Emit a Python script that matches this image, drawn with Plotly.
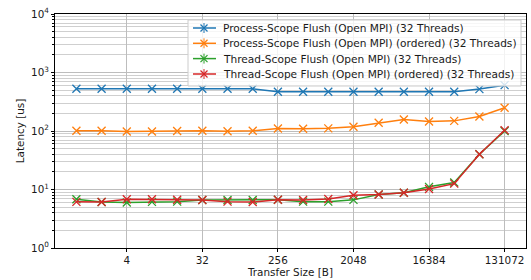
import plotly.graph_objects as go
import math

sizes = [2**i for i in range(18)]
proc_flush = [527, 527, 527, 527, 527, 527, 527, 527, 468, 468, 468, 468, 468, 468, 468, 468, 520, 608]
proc_flush_ordered = [101, 101, 98, 98, 100, 101, 99, 101, 110, 109, 111, 118, 138, 157, 145, 149, 177, 249]
thread_flush = [6.8, 6.1, 6.0, 6.15, 6.2, 6.6, 6.6, 6.6, 6.7, 6.2, 6.2, 6.65, 8.2, 8.8, 11.1, 13.2, 40, 100]
thread_flush_ordered = [6.15, 6.1, 6.8, 6.8, 6.7, 6.6, 6.2, 6.1, 6.7, 6.6, 6.9, 8.0, 8.2, 8.8, 10.2, 12.6, 40, 103]

names = [
    "Process-Scope Flush (Open MPI) (32 Threads)",
    "Process-Scope Flush (Open MPI) (ordered) (32 Threads)",
    "Thread-Scope Flush (Open MPI) (32 Threads)",
    "Thread-Scope Flush (Open MPI) (ordered) (32 Threads)",
]
colors = ["#1f77b4", "#ff7f0e", "#2ca02c", "#d62728"]
series = [proc_flush, proc_flush_ordered, thread_flush, thread_flush_ordered]

x_ticks = [4, 32, 256, 2048, 16384, 131072]
y_ticks = [1, 10, 100, 1000, 10000]
y_ticktext = ["10<sup>0</sup>", "10<sup>1</sup>", "10<sup>2</sup>", "10<sup>3</sup>", "10<sup>4</sup>"]
y_minor = [m * 10**d for d in range(4) for m in range(2, 10)]

W, H = 531, 280
ML, MR, MT, MB = 55, 5, 14, 32
PW, PH = W - ML - MR, H - MT - MB
FS = 10.4
LFS = 10.6


def px(xp):
    return (xp - ML) / PW


def py(yp):
    return (H - MB - yp) / PH


fig = go.Figure()
for name, col, ys in zip(names, colors, series):
    fig.add_trace(go.Scatter(
        x=sizes, y=ys, name=name, mode="lines+markers",
        line=dict(color=col, width=1.5),
        marker=dict(symbol="x-thin", size=8, line=dict(color=col, width=1.3)),
        showlegend=False,
    ))

# manual legend (matplotlib-like, compact rows)
shapes = [dict(type="rect", xref="paper", yref="paper",
               x0=px(188), x1=px(521), y0=py(86), y1=py(20),
               fillcolor="rgba(255,255,255,0.8)", line=dict(color="#cccccc", width=1),
               layer="above")]
annotations = []
row_y = [28, 43.3, 58.6, 74]
for name, col, ry in zip(names, colors, row_y):
    shapes.append(dict(type="line", xref="paper", yref="paper",
                       x0=px(193), x1=px(216), y0=py(ry), y1=py(ry),
                       line=dict(color=col, width=1.5), layer="above"))
    cx, s = 204, 3.5
    shapes.append(dict(type="line", xref="paper", yref="paper",
                       x0=px(cx - s), x1=px(cx + s), y0=py(ry - s), y1=py(ry + s),
                       line=dict(color=col, width=1.3), layer="above"))
    shapes.append(dict(type="line", xref="paper", yref="paper",
                       x0=px(cx - s), x1=px(cx + s), y0=py(ry + s), y1=py(ry - s),
                       line=dict(color=col, width=1.3), layer="above"))
    shapes.append(dict(type="line", xref="paper", yref="paper",
                       x0=px(cx), x1=px(cx), y0=py(ry - 5), y1=py(ry + 5),
                       line=dict(color=col, width=1), layer="above"))
    annotations.append(dict(xref="paper", yref="paper", x=px(221), y=py(ry),
                            xanchor="left", yanchor="middle", showarrow=False,
                            text=name, font=dict(size=LFS, color="#1a1a1a")))

fig.update_layout(
    width=W, height=H,
    margin=dict(l=ML, r=MR, t=MT, b=MB),
    paper_bgcolor="white", plot_bgcolor="white",
    font=dict(family="DejaVu Sans, sans-serif", size=FS, color="#1a1a1a"),
    showlegend=False,
    shapes=shapes, annotations=annotations,
)
fig.update_xaxes(
    type="log", automargin=False,
    range=[math.log10(2**-0.85), math.log10(2**17.85)],
    tickvals=x_ticks, ticktext=[str(v) for v in x_ticks],
    showgrid=True, gridcolor="#bdbdbd", gridwidth=1,
    showline=True, linecolor="black", linewidth=1, mirror=True,
    ticks="outside", ticklen=3, tickcolor="black",
    tickfont=dict(size=FS),
    title=dict(text="Transfer Size [B]", standoff=0, font=dict(size=FS)),
    zeroline=False,
)
fig.update_yaxes(
    type="log", range=[0, 4], automargin=False,
    tickvals=y_ticks, ticktext=y_ticktext,
    showgrid=True, gridcolor="#bdbdbd", gridwidth=1,
    minor=dict(tickvals=y_minor, showgrid=True, gridcolor="#cfcfcf", gridwidth=0.8,
               ticks="outside", ticklen=2, tickcolor="black"),
    showline=True, linecolor="black", linewidth=1, mirror=True,
    ticks="outside", ticklen=3, tickcolor="black",
    tickfont=dict(size=FS),
    title=dict(text="Latency [us]", standoff=4, font=dict(size=FS)),
    zeroline=False,
)
fig.write_html("out.html", config={"displayModeBar": False},
               post_script="document.body.style.margin='0';")
